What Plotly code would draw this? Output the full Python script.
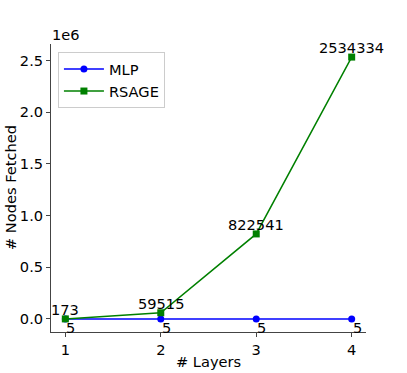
import plotly.graph_objects as go

FONT = "DejaVu Sans"
FS = 14.6

layers = [1, 2, 3, 4]
mlp_nodes = [5, 5, 5, 5]
rsage_nodes = [173, 59515, 822541, 2534334]

y_ticks = [0, 500000, 1000000, 1500000, 2000000, 2500000]
y_ticktext = ["0.0", "0.5", "1.0", "1.5", "2.0", "2.5"]

C_AXIS = "#444444"

fig = go.Figure()

fig.add_trace(go.Scatter(
    x=layers, y=mlp_nodes, mode="lines+markers", name="MLP",
    line=dict(color="#0000ff", width=1.5),
    marker=dict(symbol="circle", size=7, color="#0000ff"),
))
fig.add_trace(go.Scatter(
    x=layers, y=rsage_nodes, mode="lines+markers", name="RSAGE",
    line=dict(color="#008000", width=1.5),
    marker=dict(symbol="square", size=7, color="#008000"),
))

annotations = []
# value labels
for x, v in zip(layers, rsage_nodes):
    annotations.append(dict(
        x=x, y=v, xref="x", yref="y", text=str(v), showarrow=False,
        xanchor="center", yanchor="bottom", borderpad=0,
        font=dict(family=FONT, size=FS, color="black"),
    ))
for x, v in zip(layers, mlp_nodes):
    annotations.append(dict(
        x=x, y=v, xref="x", yref="y", text=str(v), showarrow=False,
        xanchor="left", yanchor="top", borderpad=0, yshift=1,
        font=dict(family=FONT, size=FS, color="black"),
    ))

# axis titles and offset text
annotations += [
    dict(x=0.5, y=-0.104, xref="paper", yref="paper", text="# Layers",
         showarrow=False, xanchor="center", yanchor="middle",
         font=dict(family=FONT, size=FS, color="black")),
    dict(x=-0.130, y=0.5, xref="paper", yref="paper", text="# Nodes Fetched",
         showarrow=False, xanchor="center", yanchor="middle", textangle=-90,
         font=dict(family=FONT, size=FS, color="black")),
    dict(x=0.0, y=1.0, xref="paper", yref="paper", text="1e6",
         showarrow=False, xanchor="left", yanchor="bottom", borderpad=0,
         font=dict(family=FONT, size=FS, color="black")),
]

fig.update_layout(
    width=407, height=373,
    margin=dict(l=51, r=41, t=44, b=41),
    paper_bgcolor="white", plot_bgcolor="white",
    font=dict(family=FONT, size=FS, color="black"),
    showlegend=True,
    legend=dict(
        x=0.022, y=0.972, xanchor="left", yanchor="top",
        bgcolor="white", bordercolor="#cccccc", borderwidth=1,
        itemwidth=40,
        font=dict(family=FONT, size=FS, color="black"),
    ),
    annotations=annotations,
)

fig.update_xaxes(
    range=[0.85, 4.15], tickvals=layers, ticktext=[str(v) for v in layers],
    showgrid=False, zeroline=False, showline=True, linecolor=C_AXIS, linewidth=1,
    ticks="outside", ticklen=4, tickcolor=C_AXIS, tickwidth=1,
    tickfont=dict(family=FONT, size=FS, color="black"),
)
fig.update_yaxes(
    range=[-126711, 2661050], tickvals=y_ticks, ticktext=y_ticktext,
    showgrid=False, zeroline=False, showline=True, linecolor=C_AXIS, linewidth=1,
    ticks="outside", ticklen=4, tickcolor=C_AXIS, tickwidth=1,
    tickfont=dict(family=FONT, size=FS, color="black"),
)

fig.write_html("out.html", config={"displayModeBar": False},
               post_script="document.body.style.margin='0';")
